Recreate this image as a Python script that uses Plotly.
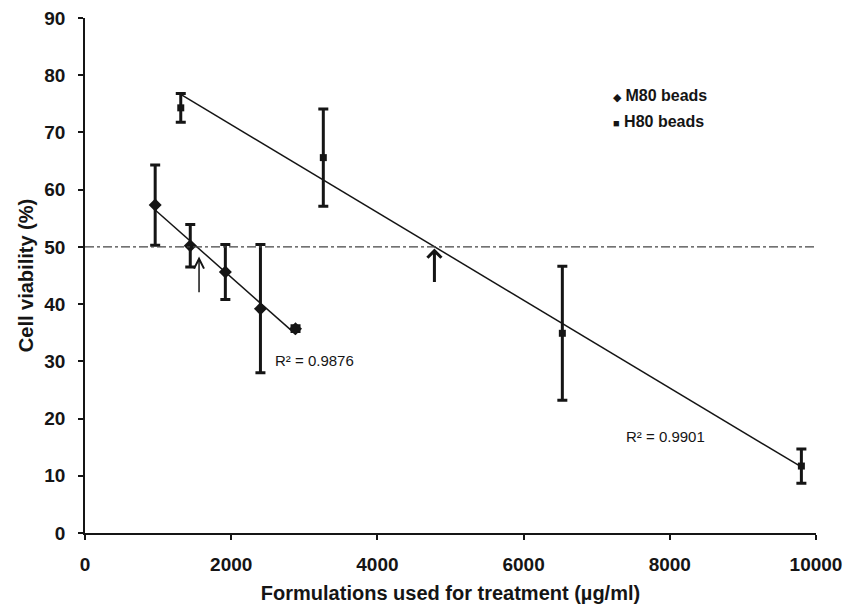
import numpy as np
import plotly.graph_objects as go

# Data
m80_x = [960, 1440, 1920, 2400, 2880]
m80_y = [57.3, 50.2, 45.6, 39.2, 35.7]
m80_err = [7.0, 3.7, 4.8, 11.2, 0.5]

h80_x = [1310, 3260, 6530, 9800]
h80_y = [74.3, 65.6, 34.9, 11.7]
h80_err = [2.5, 8.5, 11.7, 3.0]

x_ticks = [0, 2000, 4000, 6000, 8000, 10000]
y_ticks = list(range(0, 91, 10))

ic50_line = 50
r2_m80 = "R² = 0.9876"
r2_h80 = "R² = 0.9901"
arrow_x = [1560, 4780]

FONT = "Arial, Liberation Sans, sans-serif"
INK = "#151515"

fig = go.Figure()

# Trend lines (least-squares fit over the data range)
for xs, ys in [(m80_x, m80_y), (h80_x, h80_y)]:
    k, b = np.polyfit(xs, ys, 1)
    xx = np.array([min(xs), max(xs)])
    fig.add_trace(go.Scatter(x=xx, y=k * xx + b, mode="lines",
                             line=dict(color=INK, width=1.5),
                             showlegend=False, hoverinfo="skip"))

fig.add_trace(go.Scatter(
    x=m80_x, y=m80_y, mode="markers", name="M80 beads", showlegend=False,
    marker=dict(symbol="diamond", size=10, color=INK),
    error_y=dict(type="data", array=m80_err, color=INK, thickness=3, width=5)))

fig.add_trace(go.Scatter(
    x=h80_x, y=h80_y, mode="markers", name="H80 beads", showlegend=False,
    marker=dict(symbol="square", size=7, color=INK),
    error_y=dict(type="data", array=h80_err, color=INK, thickness=3, width=5)))

# 50% reference line
fig.add_shape(type="line", xref="x", yref="y", x0=0, x1=10000,
              y0=ic50_line, y1=ic50_line,
              line=dict(color="#444444", width=1.3, dash="dashdot"))

# Arrows marking IC50
fig.add_annotation(x=arrow_x[0], y=48.3, ax=arrow_x[0], ay=41.8,
                   xref="x", yref="y", axref="x", ayref="y", text="",
                   showarrow=True, arrowhead=5, arrowwidth=1.5,
                   arrowsize=1.3, arrowcolor=INK)
fig.add_annotation(x=arrow_x[1], y=49.7, ax=arrow_x[1], ay=43.6,
                   xref="x", yref="y", axref="x", ayref="y", text="",
                   showarrow=True, arrowhead=4, arrowwidth=3,
                   arrowsize=0.9, arrowcolor=INK)

fig.add_annotation(x=2570, y=30.2, xref="x", yref="y", text=r2_m80,
                   showarrow=False, xanchor="left", yanchor="middle",
                   font=dict(family=FONT, size=15, color=INK))
fig.add_annotation(x=7380, y=16.8, xref="x", yref="y", text=r2_h80,
                   showarrow=False, xanchor="left", yanchor="middle",
                   font=dict(family=FONT, size=15, color=INK))

# Legend (as text with symbols)
legend_items = [("◆", "M80 beads", 0.849), ("■", "H80 beads", 0.799)]
for sym, label, yy in legend_items:
    fig.add_annotation(
        x=0.719, y=yy, xref="paper", yref="paper", showarrow=False,
        xanchor="left", yanchor="middle",
        text=f"<span style='font-size:11px'>{sym}</span> <b>{label}</b>",
        font=dict(family=FONT, size=16, color=INK))

fig.update_layout(
    width=843, height=607,
    margin=dict(l=85, r=27, t=18, b=74),
    paper_bgcolor="white", plot_bgcolor="white",
    font=dict(family=FONT, color=INK),
    showlegend=False,
    xaxis=dict(range=[0, 10000], tickvals=x_ticks, automargin=False,
               ticktext=[f"<b>{v}</b>" for v in x_ticks],
               showgrid=False, zeroline=False, showline=True,
               linecolor=INK, linewidth=1.5, ticks="outside", ticklen=5,
               tickwidth=1.5, tickcolor=INK, ticklabelstandoff=8,
               tickfont=dict(family=FONT, size=19, color=INK),
               title=dict(text="<b>Formulations used for treatment (µg/ml)</b>",
                          font=dict(family=FONT, size=20, color=INK),
                          standoff=12)),
    yaxis=dict(range=[0, 90], tickvals=y_ticks, automargin=False,
               ticktext=[f"<b>{v}</b>" for v in y_ticks],
               showgrid=False, zeroline=False, showline=True,
               linecolor=INK, linewidth=1.5, ticks="outside", ticklen=5,
               tickwidth=1.5, tickcolor=INK, ticklabelstandoff=9,
               tickfont=dict(family=FONT, size=19, color=INK),
               title=dict(text="<b>Cell viability (%)</b>",
                          font=dict(family=FONT, size=20, color=INK),
                          standoff=5)),
)

fig.write_html("out.html")
